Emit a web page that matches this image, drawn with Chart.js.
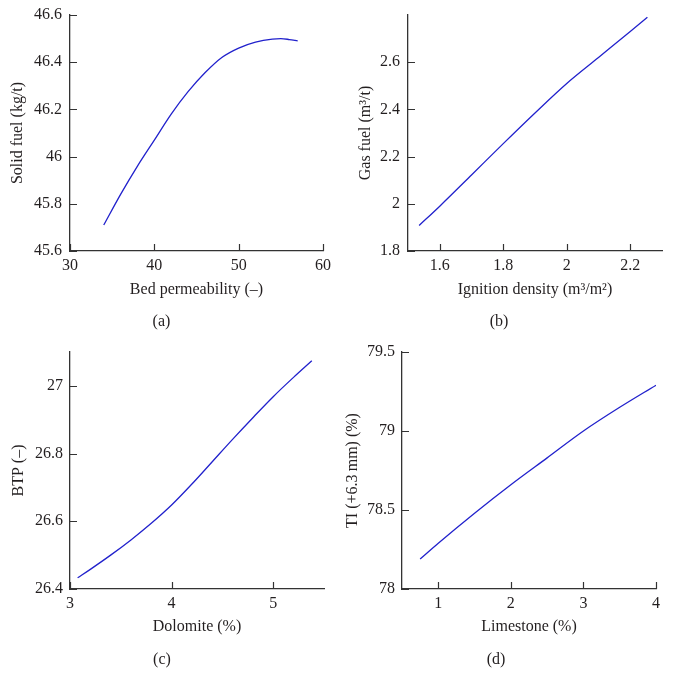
<!DOCTYPE html>
<html>
<head>
<meta charset="utf-8">
<script src="https://cdn.jsdelivr.net/npm/chart.js@4.4.1/dist/chart.umd.min.js"></script>
<style>
  body { margin: 0; background: #fff; }
  #wrap { position: relative; width: 673px; height: 691px; }
  canvas { position: absolute; }
</style>
</head>
<body>
<div id="wrap">
  <canvas id="g-a" width="336" height="340" style="left:0;top:0"></canvas>
  <canvas id="g-b" width="337" height="340" style="left:336px;top:0"></canvas>
  <canvas id="g-c" width="336" height="351" style="left:0;top:340px"></canvas>
  <canvas id="g-d" width="337" height="351" style="left:336px;top:340px"></canvas>
</div>
<script>
// (a) combustível sólido x permeabilidade
const permeabilidade = [34, 36, 38, 40, 42, 44, 46, 48, 50, 52, 54, 55, 56, 57];
const combSolido = [45.71, 45.84, 45.96, 46.07, 46.18, 46.275, 46.355, 46.42, 46.46, 46.485, 46.498, 46.5, 46.496, 46.49];
const ticksXa = [30, 40, 50, 60];
const ticksYa = [45.6, 45.8, 46, 46.2, 46.4, 46.6];

// (b) combustível gasoso x densidade de ignição
const densidade = [1.535, 1.6, 1.7, 1.8, 1.9, 2.0, 2.1, 2.2, 2.254];
const combGas = [1.908, 1.99, 2.122, 2.255, 2.385, 2.51, 2.62, 2.73, 2.79];
const ticksXb = [1.6, 1.8, 2, 2.2];
const ticksYb = [1.8, 2, 2.2, 2.4, 2.6];

// (c) BTP x dolomita
const dolomita = [3.075, 3.2, 3.4, 3.6, 3.8, 4.0, 4.2, 4.4, 4.6, 4.8, 5.0, 5.2, 5.38];
const btp = [26.433, 26.458, 26.5, 26.545, 26.594, 26.648, 26.71, 26.776, 26.842, 26.906, 26.968, 27.025, 27.074];
const ticksXc = [3, 4, 5];
const ticksYc = [26.4, 26.6, 26.8, 27];

// (d) TI x calcário
const calcario = [0.75, 1, 1.5, 2, 2.5, 3, 3.5, 4];
const ti = [78.19, 78.29, 78.48, 78.66, 78.83, 79.0, 79.15, 79.29];
const ticksXd = [1, 2, 3, 4];
const ticksYd = [78, 78.5, 79, 79.5];

const FONTE = "'Liberation Serif', 'Times New Roman', serif";
const COR_TEXTO = '#231f20';
const COR_EIXO = '#333';
const TICK = 7;

const fmt = v => String(+v.toFixed(2));

// Marcas de tick para dentro da área do gráfico (o Chart.js só desenha pra fora)
const ticksInternos = {
  id: 'ticksInternos',
  afterDraw(chart) {
    const ctx = chart.ctx;
    const area = chart.chartArea;
    const sx = chart.scales.x, sy = chart.scales.y;
    ctx.save();
    ctx.strokeStyle = COR_EIXO;
    ctx.lineWidth = 1.2;
    ctx.beginPath();
    sx.ticks.forEach(t => {
      const px = Math.round(sx.getPixelForValue(t.value)) + 0.5;
      ctx.moveTo(px, area.bottom);
      ctx.lineTo(px, area.bottom - TICK);
    });
    sy.ticks.forEach(t => {
      const py = Math.round(sy.getPixelForValue(t.value)) + 0.5;
      ctx.moveTo(area.left, py);
      ctx.lineTo(area.left + TICK, py);
    });
    ctx.stroke();
    ctx.restore();
  }
};

function eixo(cfg) {
  return {
    type: 'linear',
    position: cfg.pos,
    min: cfg.min,
    max: cfg.max,
    afterBuildTicks: ax => { ax.ticks = cfg.ticks.map(v => ({ value: v })); },
    afterFit: ax => {
      if (cfg.pos === 'left') ax.width = cfg.tam;
      else ax.height = cfg.tam;
      // a área do gráfico fica definida só pelo layout.padding
      ax.paddingTop = 0; ax.paddingBottom = 0;
      ax.paddingLeft = 0; ax.paddingRight = 0;
    },
    grid: { drawOnChartArea: false, drawTicks: false },
    border: { color: COR_EIXO, width: 1.3 },
    ticks: {
      padding: cfg.pad,
      color: COR_TEXTO,
      font: { family: FONTE, size: 16 },
      maxRotation: 0,
      callback: v => fmt(v)
    },
    title: {
      display: true,
      text: cfg.titulo,
      color: COR_TEXTO,
      font: { family: FONTE, size: 16 },
      padding: cfg.tPad
    }
  };
}

function desenharPainel(id, p) {
  const pontos = p.xs.map((x, i) => ({ x: x, y: p.ys[i] }));
  new Chart(document.getElementById(id), {
    type: 'scatter',
    data: {
      datasets: [{
        data: pontos,
        showLine: true,
        borderColor: '#2121cc',
        borderWidth: 1.3,
        pointRadius: 0,
        cubicInterpolationMode: 'monotone',
        fill: false
      }]
    },
    options: {
      responsive: false,
      animation: false,
      devicePixelRatio: 1,
      layout: { padding: p.layout },
      plugins: {
        legend: { display: false },
        tooltip: { enabled: false },
        title: {
          display: true,
          position: 'bottom',
          text: p.legenda,
          color: COR_TEXTO,
          font: { family: FONTE, size: 16, weight: 'normal' },
          padding: p.legPad
        }
      },
      scales: {
        x: eixo({ pos: 'bottom', min: p.xMin, max: p.xMax, ticks: p.xTicks, tam: 56, pad: 5,
                  titulo: p.xTitulo, tPad: { top: 0, bottom: p.xtPad } }),
        y: eixo({ pos: 'left', min: p.yMin, max: p.yMax, ticks: p.yTicks, tam: p.yLarg, pad: p.yPad,
                  titulo: p.yTitulo, tPad: { top: p.ytPad, bottom: 0 } })
      }
    },
    plugins: [ticksInternos]
  });
}

desenharPainel('g-a', {
  xs: permeabilidade, ys: combSolido,
  xMin: 30, xMax: 60, xTicks: ticksXa,
  yMin: 45.6, yMax: 46.6, yTicks: ticksYa,
  xTitulo: 'Bed permeability (\u2013)', yTitulo: 'Solid fuel (kg/t)',
  legenda: '(a)', legPad: { top: 5.4, bottom: 8.4 },
  layout: { left: 0, right: 13, top: 15, bottom: 0 },
  yLarg: 70, yPad: 8, xtPad: 7.4, ytPad: 8.4
});

desenharPainel('g-b', {
  xs: densidade, ys: combGas,
  xMin: 1.5, xMax: 2.3, xTicks: ticksXb,
  yMin: 1.8, yMax: 2.8, yTicks: ticksYb,
  xTitulo: 'Ignition density (m\u00b3/m\u00b2)', yTitulo: 'Gas fuel (m\u00b3/t)',
  legenda: '(b)', legPad: { top: 5.4, bottom: 8.4 },
  layout: { left: 0, right: 11, top: 15, bottom: 0 },
  yLarg: 72, yPad: 8, xtPad: 7.4, ytPad: 20.4
});

desenharPainel('g-c', {
  xs: dolomita, ys: btp,
  xMin: 3, xMax: 5.5, xTicks: ticksXc,
  yMin: 26.4, yMax: 27.1, yTicks: ticksYc,
  xTitulo: 'Dolomite (%)', yTitulo: 'BTP (\u2013)',
  legenda: '(c)', legPad: { top: 5.4, bottom: 21.4 },
  layout: { left: 0, right: 12, top: 12, bottom: 0 },
  yLarg: 70, yPad: 7, xtPad: 8.4, ytPad: 9.4
});

desenharPainel('g-d', {
  xs: calcario, ys: ti,
  xMin: 0.5, xMax: 4, xTicks: ticksXd,
  yMin: 78, yMax: 79.5, yTicks: ticksYd,
  xTitulo: 'Limestone (%)', yTitulo: 'TI (+6.3\u2009mm) (%)',
  legenda: '(d)', legPad: { top: 5.4, bottom: 21.4 },
  layout: { left: 0, right: 17, top: 12, bottom: 0 },
  yLarg: 66, yPad: 7, xtPad: 8.4, ytPad: 7.4
});
</script>
</body>
</html>
